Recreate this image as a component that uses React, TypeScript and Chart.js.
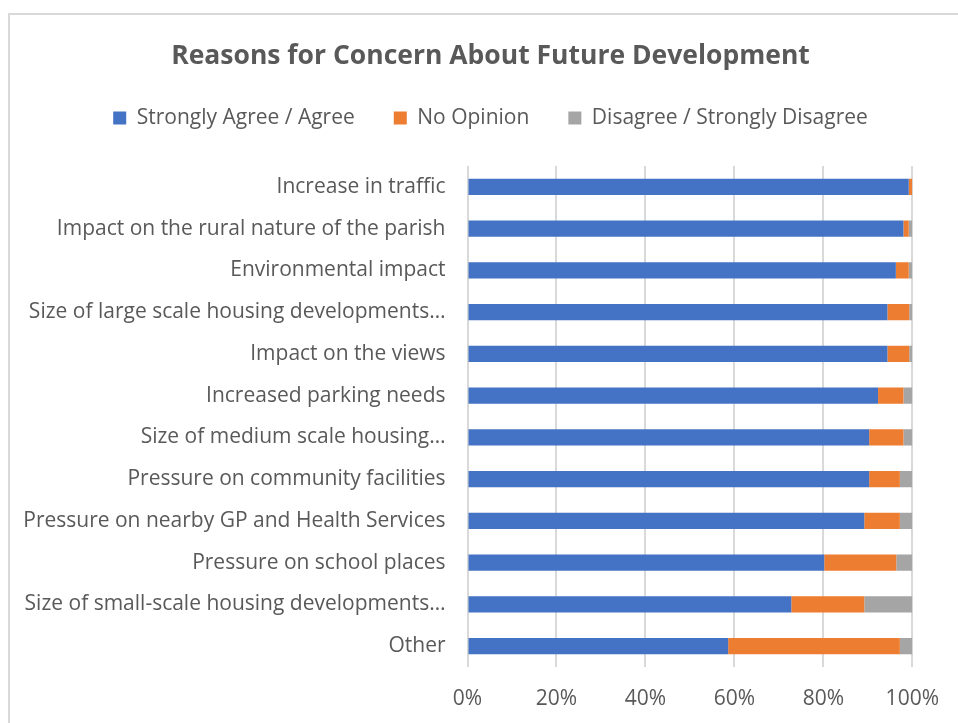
import React, { useEffect, useRef } from 'react';
import { Chart, registerables } from 'chart.js';

Chart.register(...registerables);

const TITLE = 'Reasons for Concern About Future Development';

const categories = [
  'Increase in traffic',
  'Impact on the rural nature of the parish',
  'Environmental impact',
  'Size of large scale housing developments…',
  'Impact on the views',
  'Increased parking needs',
  'Size of medium scale housing…',
  'Pressure on community facilities',
  'Pressure on nearby GP and Health Services',
  'Pressure on school places',
  'Size of small-scale housing developments…',
  'Other',
];

const seriesNames = ['Strongly Agree / Agree', 'No Opinion', 'Disagree / Strongly Disagree'];

const agree = [99.2, 98.0, 96.3, 94.4, 94.4, 92.3, 90.3, 90.3, 89.2, 80.2, 72.8, 58.6];
const noOpinion = [0.8, 1.2, 2.9, 4.9, 4.9, 5.7, 7.7, 6.9, 8.0, 16.2, 16.4, 38.6];
const disagree = [0.0, 0.8, 0.8, 0.7, 0.7, 2.0, 2.0, 2.8, 2.8, 3.6, 10.8, 2.8];

const xMin = 0;
const xMax = 100;
const xStep = 20;

const COLORS = ['#4472C4', '#ED7D31', '#A5A5A5'];
const TEXT = '#595959';
const GRID = '#D9D9D9';
const FONT = '"Open Sans", Lato, sans-serif';

// lets the long category labels extend left of the axis box without being clipped
const unclipLabels = {
  id: 'unclipLabels',
  afterLayout(chart: any) {
    if (chart.scales.y) chart.scales.y.left = 0;
  },
};

export default function App() {
  const ref = useRef<HTMLCanvasElement>(null);

  useEffect(() => {
    if (!ref.current) return;
    const values = [agree, noOpinion, disagree];
    const chart = new Chart(ref.current, {
      type: 'bar',
      data: {
        labels: categories,
        datasets: seriesNames.map((name, i) => ({
          label: name,
          data: values[i],
          backgroundColor: COLORS[i],
          borderWidth: 0,
          categoryPercentage: 0.48,
          barPercentage: 0.8,
        })),
      },
      plugins: [unclipLabels],
      options: {
        indexAxis: 'y',
        responsive: false,
        animation: false,
        layout: { padding: { top: 41, left: 67, right: 44, bottom: 0 } },
        plugins: {
          title: {
            display: true,
            text: TITLE,
            color: TEXT,
            font: { family: FONT, size: 26.5, weight: 'bold', lineHeight: 1.2 },
            padding: { top: 0, bottom: -4.3 },
          },
          subtitle: {
            display: true,
            text: '',
            weight: 500,
            font: { family: FONT, size: 27.5, lineHeight: 1 },
            padding: 0,
          },
          legend: {
            display: true,
            position: 'top',
            labels: {
              color: TEXT,
              font: { family: FONT, size: 21 },
              boxWidth: 13,
              boxHeight: 13,
              padding: 39,
            },
          },
          tooltip: { enabled: false },
        },
        scales: {
          x: {
            stacked: true,
            min: xMin,
            max: xMax,
            border: { display: false },
            grid: { color: GRID, lineWidth: 2, drawTicks: false },
            ticks: {
              stepSize: xStep,
              color: TEXT,
              font: { family: FONT, size: 21 },
              padding: 19,
              callback: (v: any) => v + '%',
            },
            afterFit: (s: any) => {
              s.height = 56;
            },
          },
          y: {
            stacked: true,
            border: { display: false },
            grid: { display: false, drawTicks: false },
            ticks: {
              color: TEXT,
              font: { family: FONT, size: 21 },
              padding: 22,
              autoSkip: false,
            },
            afterFit: (s: any) => {
              s.width = 400.5;
            },
          },
        },
      },
    } as any);
    return () => chart.destroy();
  }, []);

  return (
    <div
      style={{
        position: 'fixed',
        left: 0,
        top: 0,
        width: 958,
        height: 723,
        background: '#fff',
        overflow: 'hidden',
      }}
    >
      <div
        style={{
          position: 'absolute',
          left: 8,
          top: 13,
          width: 1000,
          height: 800,
          border: '2px solid #D9D9D9',
          boxSizing: 'border-box',
        }}
      />
      <canvas
        ref={ref}
        width={958}
        height={723}
        style={{ position: 'absolute', left: 0, top: 0, width: 958, height: 723 }}
      />
    </div>
  );
}
